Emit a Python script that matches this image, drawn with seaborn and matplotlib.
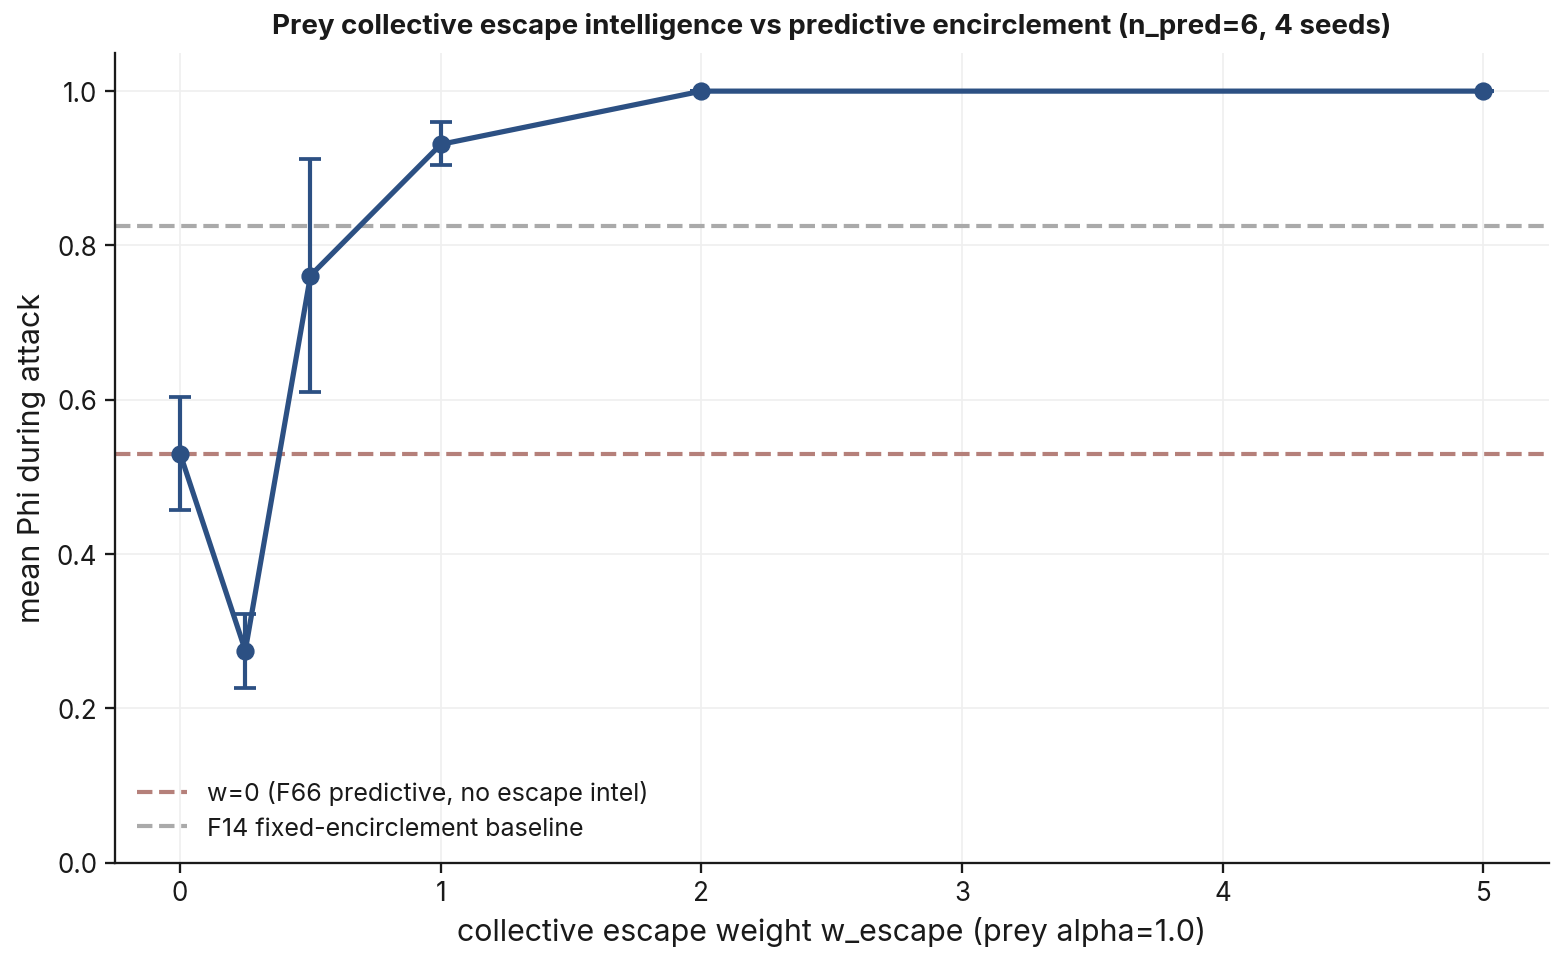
import numpy as np
import pandas as pd
import seaborn as sns
import matplotlib.pyplot as plt

# data
w_escape = [0, 0.25, 0.5, 1, 2, 5]
phi_mean = [0.530, 0.275, 0.761, 0.931, 1.0, 1.0]
phi_lo = [0.457, 0.227, 0.610, 0.904, 1.0, 1.0]
phi_hi = [0.604, 0.323, 0.912, 0.960, 1.0, 1.0]
baseline_w0 = 0.530
baseline_f14 = 0.825

df = pd.DataFrame({'w': w_escape, 'phi': phi_mean})

sns.set_style('ticks')
plt.rcParams['font.family'] = ['Inter', 'DejaVu Sans']
plt.rcParams['text.color'] = '#1a1a1a'
plt.rcParams['axes.labelcolor'] = '#1a1a1a'
plt.rcParams['xtick.color'] = '#1a1a1a'
plt.rcParams['ytick.color'] = '#1a1a1a'
plt.rcParams['axes.edgecolor'] = '#1a1a1a'

line_col = '#2c5083'

fig = plt.figure(figsize=(10.43, 6.43), dpi=150)
ax = fig.add_axes([0.0735, 0.105, 0.9163, 0.84])

ax.axhline(baseline_w0, color='#b5807a', ls='--', lw=2, label='w=0 (F66 predictive, no escape intel)')
ax.axhline(baseline_f14, color='#aaaaaa', ls='--', lw=2, label='F14 fixed-encirclement baseline')

yerr = [np.array(phi_mean) - np.array(phi_lo), np.array(phi_hi) - np.array(phi_mean)]
ax.errorbar(w_escape, phi_mean, yerr=yerr, fmt='none', ecolor=line_col, elinewidth=2, capsize=5.5, capthick=1.8, zorder=3)
sns.lineplot(data=df, x='w', y='phi', ax=ax, color=line_col, lw=2.5, marker='o', markersize=8,
             markeredgecolor=line_col, zorder=4)

ax.set_ylim(0, 1.05)
ax.set_xlim(-0.25, 5.25)
ax.grid(True, color='#efefef', lw=0.8)
ax.set_axisbelow(True)
sns.despine(ax=ax)
for s in ['left', 'bottom']:
    ax.spines[s].set_linewidth(1.1)
ax.tick_params(labelsize=12.5, width=1.1, length=5)

ax.set_title('Prey collective escape intelligence vs predictive encirclement (n_pred=6, 4 seeds)',
             fontsize=13.3, fontweight='bold', pad=9)
ax.set_xlabel('collective escape weight w_escape (prey alpha=1.0)', fontsize=14.6, labelpad=5)
ax.set_ylabel('mean Phi during attack', fontsize=14.6, labelpad=5)

handles, labels = ax.get_legend_handles_labels()
ax.legend(handles[:2], labels[:2], loc='lower left', frameon=False, fontsize=12,
          handlelength=2.0, handletextpad=0.8, borderaxespad=0.5, labelspacing=0.45)

fig.savefig('out.png', dpi=150)
